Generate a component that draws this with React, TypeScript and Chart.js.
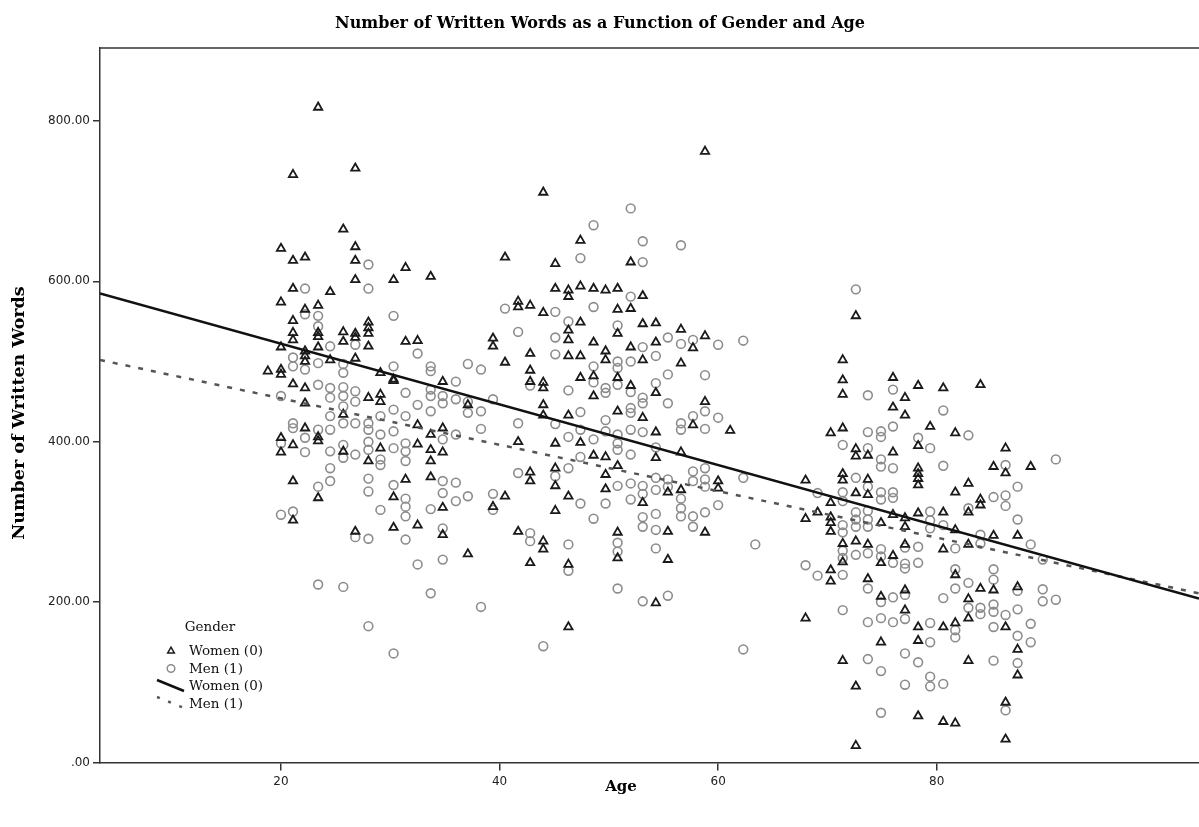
import React, { useEffect, useRef } from 'react';
import { Chart, registerables } from 'chart.js';

Chart.register(...registerables);

const chartTitle = 'Number of Written Words as a Function of Gender and Age';
const xTitle = 'Age';
const yTitle = 'Number of Written Words';
const legendTitle = 'Gender';
const seriesNames = ['Women (0)', 'Men (1)'];

const xTickValues = [20, 40, 60, 80];
const yTickValues = [0, 200, 400, 600, 800];
const xRange = [3.44, 104];
const yRange = [0, 891];

// Fit lines: [age, words] at the two ends of the age axis
const womenFit: [number, number][] = [[3.44, 585], [104, 204.5]];
const menFit: [number, number][] = [[3.44, 502], [104, 211]];

// Women (0): [age, words]
const women: [number, number][] = [
  [23.4,817],[21.1,733],[26.8,741],[25.7,665],[20.0,641],[26.8,643],[21.1,626],[22.2,630],[26.8,626],[31.4,617],[33.7,606],[26.8,602],[30.3,602],[21.1,591],[24.5,587],[20.0,574],[22.2,565],[23.4,570],[21.1,551],[28.0,549],[28.0,542],[21.1,536],[23.4,536],[25.7,537],[26.8,535],[28.0,535],
  [21.1,527],[23.4,531],[25.7,525],[26.8,530],[23.4,518],[20.0,518],[28.0,519],[31.4,525],[32.5,526],[22.2,513],[22.2,507],[24.5,502],[26.8,504],[22.2,500],[18.8,488],[20.0,490],[20.0,484],[29.1,486],[30.3,478],[30.3,476],[34.8,475],[21.1,472],[22.2,467],[28.0,455],[29.1,459],[29.1,450],[22.2,448],[25.7,434],[22.2,417],[23.4,401],[23.4,406],[20.0,405],[20.0,387],[21.1,396],[25.7,388],[28.0,376],[29.1,392],[32.5,421],[32.5,397],[33.7,409],[33.7,390],[33.7,376],[34.8,417],[34.8,387],[21.1,351],[23.4,330],[30.3,331],[31.4,353],[33.7,356],[34.8,318],[21.1,302],[30.3,293],[32.5,296],[26.8,288],[34.8,284],
  [58.8,762],[44.0,711],[47.4,651],[40.5,630],[45.1,622],[52.0,624],[45.1,591],[46.3,589],[46.3,581],[47.4,594],[48.6,591],[49.7,589],[50.8,591],[53.1,582],[41.7,575],[41.7,568],[42.8,570],[44.0,561],[50.8,565],[52.0,566],[47.4,549],[50.8,535],[53.1,547],[54.3,548],[46.3,539],[46.3,527],[39.4,529],[39.4,519],[48.6,524],[56.6,540],[58.8,532],[52.0,518],[54.3,524],[57.7,517],
  [40.5,499],[42.8,510],[42.8,489],[42.8,475],[44.0,474],[44.0,467],[46.3,507],[47.4,507],[49.7,513],[49.7,502],[53.1,502],[56.6,498],[47.4,480],[48.6,482],[50.8,480],[48.6,457],[52.0,470],[54.3,461],[58.8,450],[57.7,421],[61.1,414],[37.1,446],[44.0,446],[44.0,433],[46.3,433],[50.8,438],[53.1,430],[47.4,399],[54.3,412],[45.1,398],[41.7,400],[54.3,380],[56.6,387],[48.6,383],[49.7,381],[45.1,367],[45.1,345],[42.8,362],[42.8,351],[50.8,370],[49.7,359],[49.7,341],[55.4,337],[56.6,340],[60.0,351],[60.0,342],[39.4,319],[40.5,332],[46.3,332],[45.1,314],[53.1,324],[55.4,288],[41.7,288],[50.8,287],[58.8,287],
  [44.0,276],[44.0,266],[37.1,260],[50.8,255],[42.8,249],[46.3,247],[55.4,253],[54.3,199],[46.3,169],
  [71.4,502],[71.4,477],[71.4,459],[76.0,480],[78.3,470],[80.6,467],[84.0,471],[77.1,455],[76.0,443],[77.1,433],[79.4,419],[70.3,411],[71.4,417],[81.7,411],[78.3,395],[72.6,391],[72.6,382],[73.7,383],[76.0,387],[86.3,392],[78.3,367],[78.3,360],[78.3,354],[78.3,346],[85.2,369],[86.3,361],[71.4,360],[71.4,352],[73.7,353],[68.0,352],[82.9,348],[81.7,337],[72.6,336],[73.7,334],[70.3,324],[84.0,328],[84.0,321],[69.1,312],[68.0,304],[70.3,306],[70.3,299],[70.3,288],[74.9,299],[76.0,309],[77.1,305],[77.1,294],[78.3,311],[80.6,312],[81.7,290],[82.9,312],[85.2,283],[87.4,283],
  [71.4,273],[72.6,276],[73.7,272],[71.4,250],[77.1,272],[80.6,266],[82.9,272],[74.9,249],[76.0,258],[70.3,240],[70.3,226],[73.7,229],[81.7,234],[85.2,215],[84.0,217],[87.4,219],[74.9,207],[77.1,215],[82.9,204],[82.9,180],[68.0,180],[77.1,190],[78.3,169],[80.6,169],[81.7,174],[86.3,169],[74.9,150],[78.3,152],[87.4,141],[71.4,127],[82.9,127],[87.4,109],[72.6,95],[86.3,75],[78.3,58],[80.6,51],[81.7,49],[72.6,21],[86.3,29],[72.6,557],[88.6,369],
];

// Men (1): [age, words]
const men: [number, number][] = [
  [28.0,621],[22.2,591],[28.0,591],[22.2,559],[23.4,557],[23.4,544],[30.3,557],
  [26.8,521],[24.5,519],[32.5,510],[21.1,505],[23.4,498],[25.7,497],[25.7,486],[22.2,490],[21.1,494],[30.3,494],[33.7,494],[33.7,488],[23.4,471],[24.5,467],[25.7,468],[24.5,455],[25.7,457],[25.7,444],[26.8,463],[26.8,450],[31.4,461],[33.7,465],[33.7,457],[34.8,457],[34.8,448],[32.5,446],[30.3,440],[33.7,438],[20.0,457],[24.5,432],[25.7,423],[29.1,432],[31.4,432],[28.0,423],[26.8,423],[28.0,415],[21.1,423],[21.1,417],[23.4,415],[24.5,415],[22.2,405],[20.0,398],[22.2,387],[24.5,388],[25.7,396],[25.7,380],[26.8,384],[28.0,400],[28.0,390],[29.1,409],[29.1,378],[29.1,371],[30.3,413],[30.3,392],[31.4,398],[31.4,388],[31.4,376],[34.8,403],[36.0,409],[24.5,367],[24.5,351],[23.4,344],[28.0,354],[28.0,338],[30.3,346],[31.4,329],[31.4,319],[31.4,307],[34.8,351],[34.8,336],[33.7,316],[29.1,315],[20.0,309],[21.1,313],[34.8,292],[26.8,281],[28.0,279],[31.4,278],[32.5,247],[34.8,253],[23.4,222],[25.7,219],[33.7,211],[28.0,170],[30.3,136],
  [52.0,691],[48.6,670],[53.1,650],[56.6,645],[47.4,629],[53.1,624],[52.0,581],[40.5,566],[45.1,562],[48.6,568],[46.3,550],[50.8,545],[41.7,537],[45.1,530],[55.4,530],[56.6,522],[57.7,527],[60.0,521],[62.3,526],[53.1,518],
  [37.1,497],[38.3,490],[36.0,475],[42.8,470],[45.1,509],[48.6,494],[50.8,500],[50.8,492],[52.0,500],[54.3,507],[48.6,474],[50.8,471],[49.7,467],[49.7,461],[46.3,464],[52.0,462],[53.1,455],[53.1,448],[54.3,473],[55.4,484],[58.8,483],[55.4,448],[58.8,438],[57.7,432],[56.6,423],[56.6,415],[58.8,416],[60.0,430],[36.0,453],[37.1,450],[37.1,436],[38.3,438],[39.4,453],[38.3,416],[41.7,423],[45.1,422],[47.4,437],[52.0,442],[52.0,436],[49.7,427],[47.4,415],[46.3,406],[49.7,413],[50.8,409],[50.8,398],[50.8,390],[52.0,415],[53.1,412],[48.6,403],[54.3,393],[52.0,384],[47.4,381],[46.3,367],[45.1,357],[41.7,361],[50.8,345],[52.0,348],[53.1,345],[53.1,335],[54.3,355],[54.3,340],[55.4,353],[55.4,344],[56.6,329],[56.6,317],[56.6,307],[57.7,363],[57.7,351],[58.8,367],[58.8,353],[58.8,344],[62.3,355],[60.0,321],[58.8,312],[57.7,307],[57.7,294],[36.0,349],[36.0,326],[37.1,332],[39.4,335],[39.4,315],[47.4,323],[49.7,323],[52.0,328],[54.3,310],[53.1,306],[53.1,294],[54.3,290],[48.6,304],[42.8,286],
  [42.8,276],[46.3,272],[50.8,274],[50.8,263],[54.3,267],[63.4,272],[46.3,239],[50.8,217],[53.1,201],[55.4,208],[38.3,194],[44.0,145],[62.3,141],
  [72.6,590],[76.0,465],[73.7,458],[80.6,439],[76.0,419],[73.7,412],[74.9,413],[74.9,406],[82.9,408],[78.3,405],[79.4,392],[71.4,396],[73.7,392],[74.9,378],[74.9,369],[76.0,367],[80.6,370],[86.3,371],[72.6,355],[73.7,344],[87.4,344],[69.1,336],[71.4,337],[74.9,337],[76.0,337],[74.9,328],[76.0,330],[71.4,326],[85.2,331],[86.3,333],[86.3,320],[72.6,312],[73.7,314],[71.4,296],[71.4,287],[72.6,303],[72.6,294],[73.7,303],[73.7,294],[79.4,313],[79.4,302],[79.4,292],[80.6,296],[82.9,317],[84.0,284],[87.4,303],
  [71.4,264],[72.6,259],[73.7,261],[74.9,266],[74.9,257],[78.3,269],[77.1,268],[81.7,267],[84.0,273],[71.4,255],[76.0,249],[77.1,248],[77.1,242],[78.3,249],[68.0,246],[69.1,233],[71.4,234],[73.7,217],[81.7,241],[81.7,217],[82.9,224],[85.2,241],[85.2,228],[74.9,200],[76.0,206],[77.1,209],[80.6,205],[82.9,193],[84.0,193],[84.0,185],[85.2,197],[85.2,188],[86.3,184],[87.4,191],[71.4,190],[73.7,175],[74.9,180],[76.0,175],[77.1,179],[79.4,174],[81.7,165],[81.7,156],[85.2,169],[87.4,158],[79.4,150],[77.1,136],[73.7,129],[78.3,125],[85.2,127],[87.4,124],[74.9,114],[77.1,97],[79.4,107],[79.4,95],[80.6,98],[86.3,65],[74.9,62],[87.4,214],
  [90.9,378],[88.6,272],[89.7,253],[89.7,216],[89.7,201],[90.9,203],[88.6,173],[88.6,150],
];

const WOMEN_COLOR = '#1a1a1a';
const MEN_COLOR = '#8c8c8c';
const AXIS_COLOR = '#333333';
const SERIF = '"DejaVu Serif", "Liberation Serif", serif';
const SANS = '"DejaVu Sans", sans-serif';

const toXY = (pts: [number, number][]) => pts.map(([x, y]) => ({ x, y }));

const decorPlugin = {
  id: 'decor',
  afterDraw(chart: any) {
    const { ctx, chartArea: a } = chart;
    ctx.save();
    // top frame line
    ctx.strokeStyle = AXIS_COLOR;
    ctx.lineWidth = 1.5;
    ctx.beginPath();
    ctx.moveTo(a.left, a.top);
    ctx.lineTo(a.right, a.top);
    ctx.stroke();

    ctx.fillStyle = '#000';
    ctx.textBaseline = 'middle';
    ctx.textAlign = 'center';
    ctx.font = `bold 16px ${SERIF}`;
    ctx.fillText(chartTitle, 600, 24);
    ctx.font = `bold 15px ${SERIF}`;
    ctx.fillText(xTitle, 621, 787);
    ctx.font = `bold 17.5px ${SERIF}`;
    ctx.save();
    ctx.translate(19, 413);
    ctx.rotate(-Math.PI / 2);
    ctx.fillText(yTitle, 0, 0);
    ctx.restore();

    // legend
    ctx.font = `13.5px ${SERIF}`;
    ctx.fillStyle = '#111';
    ctx.textAlign = 'center';
    ctx.fillText(legendTitle, 210, 627);
    ctx.textAlign = 'left';
    const tx = 189;
    const rows = [651, 669, 686, 704];
    ctx.fillText(seriesNames[0], tx, rows[0]);
    ctx.fillText(seriesNames[1], tx, rows[1]);
    ctx.fillText(seriesNames[0], tx, rows[2]);
    ctx.fillText(seriesNames[1], tx, rows[3]);

    // triangle marker
    ctx.strokeStyle = WOMEN_COLOR;
    ctx.lineWidth = 1.5;
    const r = 3.8;
    const cx = 171, cy = 651;
    ctx.beginPath();
    for (let i = 0; i < 3; i++) {
      const ang = (i * 2 * Math.PI) / 3;
      const px = cx + Math.sin(ang) * r;
      const py = cy - Math.cos(ang) * r;
      if (i === 0) ctx.moveTo(px, py); else ctx.lineTo(px, py);
    }
    ctx.closePath();
    ctx.stroke();
    // circle marker
    ctx.strokeStyle = MEN_COLOR;
    ctx.beginPath();
    ctx.arc(171, 668.5, 3.8, 0, Math.PI * 2);
    ctx.stroke();
    // solid line sample
    ctx.strokeStyle = '#111';
    ctx.lineWidth = 2.5;
    ctx.beginPath();
    ctx.moveTo(157, 680);
    ctx.lineTo(184, 691);
    ctx.stroke();
    // dotted sample
    ctx.strokeStyle = '#555';
    ctx.setLineDash([3, 9]);
    ctx.beginPath();
    ctx.moveTo(157, 697);
    ctx.lineTo(184, 708);
    ctx.stroke();
    ctx.setLineDash([]);
    ctx.restore();
  },
};

export default function App() {
  const canvasRef = useRef<HTMLCanvasElement | null>(null);

  useEffect(() => {
    if (!canvasRef.current) return;
    const chart = new Chart(canvasRef.current, {
      type: 'scatter',
      data: {
        datasets: [
          {
            type: 'line',
            label: seriesNames[0] + ' fit',
            data: toXY(womenFit),
            borderColor: '#111',
            borderWidth: 2.5,
            pointRadius: 0,
            fill: false,
            order: 0,
          } as any,
          {
            type: 'line',
            label: seriesNames[1] + ' fit',
            data: toXY(menFit),
            borderColor: '#555',
            borderWidth: 2.5,
            borderDash: [5, 8],
            pointRadius: 0,
            fill: false,
            order: 0,
          } as any,
          {
            type: 'scatter',
            label: seriesNames[0],
            data: toXY(women),
            pointStyle: 'triangle',
            pointRadius: 4.8,
            pointBorderWidth: 1.8,
            borderColor: WOMEN_COLOR,
            backgroundColor: 'rgba(0,0,0,0)',
            order: 1,
          },
          {
            type: 'scatter',
            label: seriesNames[1],
            data: toXY(men),
            pointStyle: 'circle',
            pointRadius: 4.4,
            pointBorderWidth: 1.6,
            borderColor: MEN_COLOR,
            backgroundColor: 'rgba(0,0,0,0)',
            order: 2,
          },
        ],
      },
      options: {
        animation: false,
        responsive: true,
        maintainAspectRatio: false,
        layout: { autoPadding: false, padding: { top: 48, left: 0, right: 0, bottom: 0 } },
        plugins: {
          legend: { display: false },
          tooltip: { enabled: false },
          title: { display: false },
        },
        scales: {
          x: {
            type: 'linear',
            min: xRange[0],
            max: xRange[1],
            afterBuildTicks: (s: any) => {
              s.ticks = xTickValues.map((v) => ({ value: v }));
            },
            afterFit: (s: any) => {
              s.height = 64.5;
              s.paddingLeft = 0;
              s.paddingRight = 0;
            },
            grid: { drawOnChartArea: false, drawTicks: true, tickLength: 8, color: AXIS_COLOR, lineWidth: 1.5 },
            border: { display: true, color: AXIS_COLOR, width: 1.5 },
            ticks: {
              font: { family: SANS, size: 12 },
              color: '#222',
              padding: 4,
              maxRotation: 0,
              autoSkip: false,
              callback: (v: any) => String(v),
            },
          },
          y: {
            type: 'linear',
            min: yRange[0],
            max: yRange[1],
            afterBuildTicks: (s: any) => {
              s.ticks = yTickValues.map((v) => ({ value: v }));
            },
            afterFit: (s: any) => {
              s.width = 100;
              s.paddingTop = 0;
              s.paddingBottom = 0;
            },
            grid: { drawOnChartArea: false, drawTicks: true, tickLength: 7, color: AXIS_COLOR, lineWidth: 1.5 },
            border: { display: true, color: AXIS_COLOR, width: 1.5 },
            ticks: {
              font: { family: SANS, size: 12 },
              color: '#222',
              padding: 3,
              autoSkip: false,
              callback: (v: any) => (Number(v) === 0 ? '.00' : Number(v).toFixed(2)),
            },
          },
        },
      },
      plugins: [decorPlugin],
    });
    return () => chart.destroy();
  }, []);

  return (
    <div style={{ position: 'fixed', left: 0, top: 0, width: 1199, height: 827, background: '#fff' }}>
      <canvas ref={canvasRef} />
    </div>
  );
}
